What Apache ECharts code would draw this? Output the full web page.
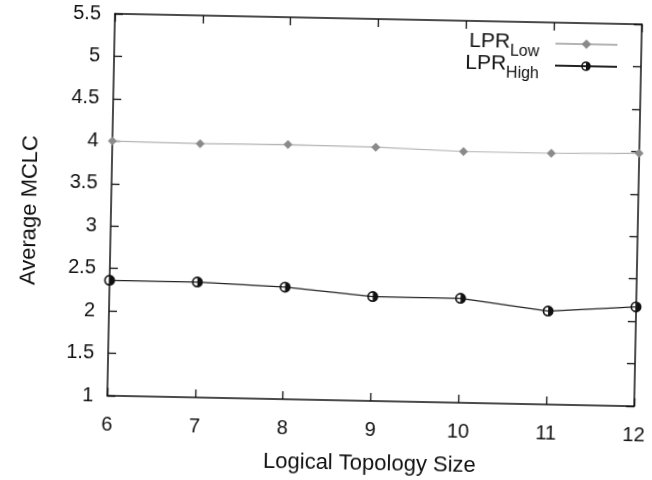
<!DOCTYPE html>
<html>
<head>
<meta charset="utf-8">
<script src="https://cdn.jsdelivr.net/npm/echarts@6/dist/echarts.min.js"></script>
<style>
html,body{margin:0;padding:0;background:#fff;overflow:hidden;}
#chart{width:652px;height:480px;transform:rotate(1.15deg);transform-origin:374.7px 213.1px;background:#fff;}
</style>
</head>
<body>
<div id="chart"></div>
<script>
// Data
const topologySizes = [6, 7, 8, 9, 10, 11, 12];
const lprLow = [4.00, 3.99, 4.00, 3.99, 3.96, 3.96, 3.98];
const lprHigh = [2.36, 2.36, 2.32, 2.23, 2.23, 2.10, 2.17];
const seriesNames = ['LPR_Low', 'LPR_High'];
const legendLabels = { 'LPR_Low': ['LPR', 'Low'], 'LPR_High': ['LPR', 'High'] };
const xTitle = 'Logical Topology Size';
const yTitle = 'Average MCLC';

const FONT = "'Liberation Sans', Arial, Helvetica, sans-serif";
const halfCircle = 'path://M0,-1 A1,1 0 1,1 0,1 A1,1 0 1,1 0,-1 Z M0,-0.7 A0.7,0.7 0 0,0 0,0.7 Z';

const chart = echarts.init(document.getElementById('chart'), null, { renderer: 'canvas' });

const tickStyle = { show: true, inside: true, length: 8, lineStyle: { color: '#111', width: 1.3 } };
const lineStyleAxis = { show: true, lineStyle: { color: '#111', width: 1.5 } };

chart.setOption({
  animation: false,
  backgroundColor: '#fff',
  grid: { left: 111, right: 13.5, top: 19, bottom: 72.6, containLabel: false },
  legend: {
    orient: 'vertical',
    right: 32,
    top: 24,
    align: 'right',
    itemWidth: 62,
    itemHeight: 12,
    itemGap: -6,
    data: seriesNames,
    formatter: function (name) {
      const p = legendLabels[name];
      return '{m|' + p[0] + '}{s|' + p[1] + '}{g| }';
    },
    textStyle: {
      fontFamily: FONT,
      color: '#111',
      fontSize: 21,
      rich: {
        m: { fontFamily: FONT, fontSize: 21, lineHeight: 22, verticalAlign: 'top', color: '#111' },
        s: { fontFamily: FONT, fontSize: 16, lineHeight: 16, padding: [12, 0, 0, 0], verticalAlign: 'top', color: '#111' },
        g: { fontSize: 10, width: 11 }
      }
    }
  },
  xAxis: [
    {
      type: 'value', min: 6, max: 12, interval: 1, position: 'bottom',
      name: xTitle, nameLocation: 'middle', nameGap: 52,
      nameTextStyle: { fontFamily: FONT, fontSize: 22, color: '#111' },
      axisLine: lineStyleAxis, axisTick: tickStyle, splitLine: { show: false },
      axisLabel: { fontFamily: FONT, fontSize: 20, color: '#111', margin: 19 }
    },
    {
      type: 'value', min: 6, max: 12, interval: 1, position: 'top',
      axisLine: lineStyleAxis, axisTick: tickStyle, splitLine: { show: false },
      axisLabel: { show: false }
    }
  ],
  yAxis: [
    {
      type: 'value', min: 1, max: 5.5, interval: 0.5, position: 'left',
      name: yTitle, nameLocation: 'middle', nameGap: 70, nameRotate: 90,
      nameTextStyle: { fontFamily: FONT, fontSize: 22, color: '#111', padding: [0, 14, 0, 0] },
      axisLine: lineStyleAxis, axisTick: tickStyle, splitLine: { show: false },
      axisLabel: { fontFamily: FONT, fontSize: 20, color: '#111', margin: 14 }
    },
    {
      type: 'value', min: 1, max: 5.5, interval: 0.5, position: 'right',
      axisLine: lineStyleAxis, axisTick: tickStyle, splitLine: { show: false },
      axisLabel: { show: false }
    }
  ],
  series: [
    {
      name: seriesNames[0], type: 'line',
      data: topologySizes.map((x, i) => [x, lprLow[i]]),
      symbol: 'diamond', symbolSize: 9,
      itemStyle: { color: '#8a8a8a' },
      lineStyle: { color: '#b4b4b4', width: 1.2, type: 'solid' },
      z: 3
    },
    {
      name: seriesNames[1], type: 'line',
      data: topologySizes.map((x, i) => [x, lprHigh[i]]),
      symbol: halfCircle, symbolSize: 11, symbolKeepAspect: true,
      itemStyle: { color: '#111' },
      lineStyle: { color: '#222', width: 1.2 },
      z: 4
    }
  ]
});
</script>
</body>
</html>
